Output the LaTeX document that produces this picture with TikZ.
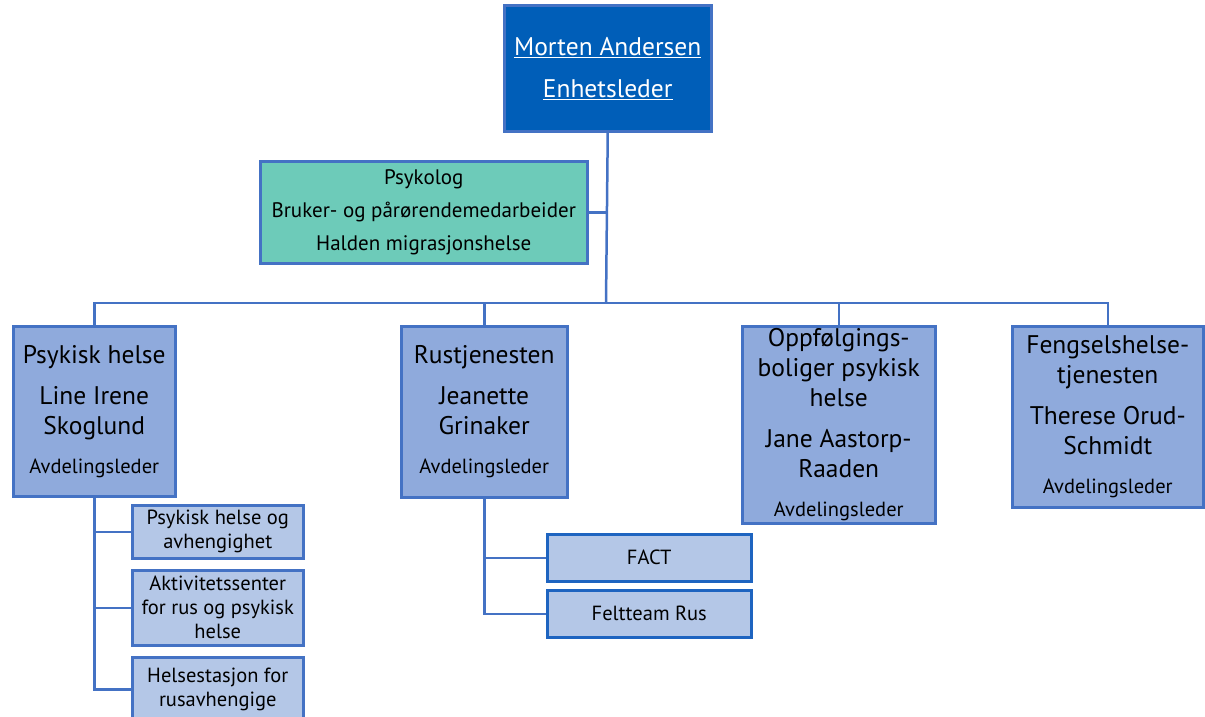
\documentclass[tikz,border=0pt]{standalone}
\usepackage{fontspec}
\setmainfont{PT Sans}
\definecolor{headblue}{HTML}{005EB8}
\definecolor{edgeblue}{HTML}{4472C4}
\definecolor{staffgreen}{HTML}{6DCBB9}
\definecolor{deptblue}{HTML}{8FAADC}
\definecolor{unitblue}{HTML}{B4C7E7}
\definecolor{darkedge}{HTML}{1E64C0}
\begin{document}
\begin{tikzpicture}[x=1pt,y=-1pt,
  box/.style={draw=edgeblue,line width=2.5pt,anchor=north west,inner sep=0pt,align=center},
  head/.style={box,fill=headblue,text=white,font=\fontsize{25.5}{42}\selectfont},
  staff/.style={box,fill=staffgreen,font=\fontsize{21}{33}\selectfont},
  dept/.style={box,fill=deptblue,font=\fontsize{25.5}{30}\selectfont},
  unit/.style={box,fill=unitblue,font=\fontsize{20.5}{24}\selectfont},
  unitb/.style={unit,draw=darkedge},
  link/.style={draw=edgeblue,line width=2.5pt}]
\useasboundingbox (0,0) rectangle (1205,716);
\node [head,minimum width=207pt,minimum height=126pt] (chief) at (503,4) {\underline{Morten Andersen}\\\underline{Enhetsleder}};
\node [staff,minimum width=327pt,minimum height=102pt] (staff) at (259,160) {Psykolog\\Bruker- og pårørendemedarbeider\\Halden migrasjonshelse};
\node [dept,minimum width=162pt,minimum height=170pt] (psyk) at (12,325) {Psykisk helse\\[11pt]Line Irene\\Skoglund\\[9pt]{\fontsize{20.5}{24}\selectfont Avdelingsleder}};
\node [dept,minimum width=166pt,minimum height=171pt] (rus) at (400,325) {Rustjenesten\\[11pt]Jeanette\\Grinaker\\[9pt]{\fontsize{20.5}{24}\selectfont Avdelingsleder}};
\node [dept,minimum width=193pt,minimum height=197pt] (bolig) at (741,325) {Oppfølgings-\\boliger psykisk\\helse\\[11pt]Jane Aastorp-\\Raaden\\[9pt]{\fontsize{20.5}{24}\selectfont Avdelingsleder}};
\node [dept,minimum width=191pt,minimum height=181pt] (fengsel) at (1011,325) {Fengselshelse-\\tjenesten\\[11pt]Therese Orud-\\Schmidt\\[9pt]{\fontsize{20.5}{24}\selectfont Avdelingsleder}};
\node [unit,minimum width=171pt,minimum height=53pt] (avh) at (131,504) {Psykisk helse og\\avhengighet};
\node [unit,minimum width=171pt,minimum height=75pt] (akt) at (131,569) {Aktivitetssenter\\for rus og psykisk\\helse};
\node [unit,minimum width=171pt,minimum height=64pt] (stasjon) at (131,656) {Helsestasjon for\\rusavhengige};
\node [unitb,minimum width=204pt,minimum height=47pt] (fact) at (546,533) {FACT};
\node [unitb,minimum width=204pt,minimum height=47pt] (felt) at (546,589) {Feltteam Rus};
\coordinate (hub) at (606,303);
\draw [link] (chief.south) -- (hub);
\draw [link] (staff.east) -- (staff.east -| hub);
\draw [link] (hub) -| (psyk.north);
\draw [link] (hub) -| (rus.north);
\draw [link] (hub) -| (bolig.north);
\draw [link] (hub) -| (fengsel.north);
\draw [link] (psyk.south) |- (avh.west);
\draw [link] (psyk.south) |- (akt.west);
\draw [link] (psyk.south) |- (stasjon.west);
\draw [link] (rus.south) |- (fact.west);
\draw [link] (rus.south) |- (felt.west);
\end{tikzpicture}
\end{document}
